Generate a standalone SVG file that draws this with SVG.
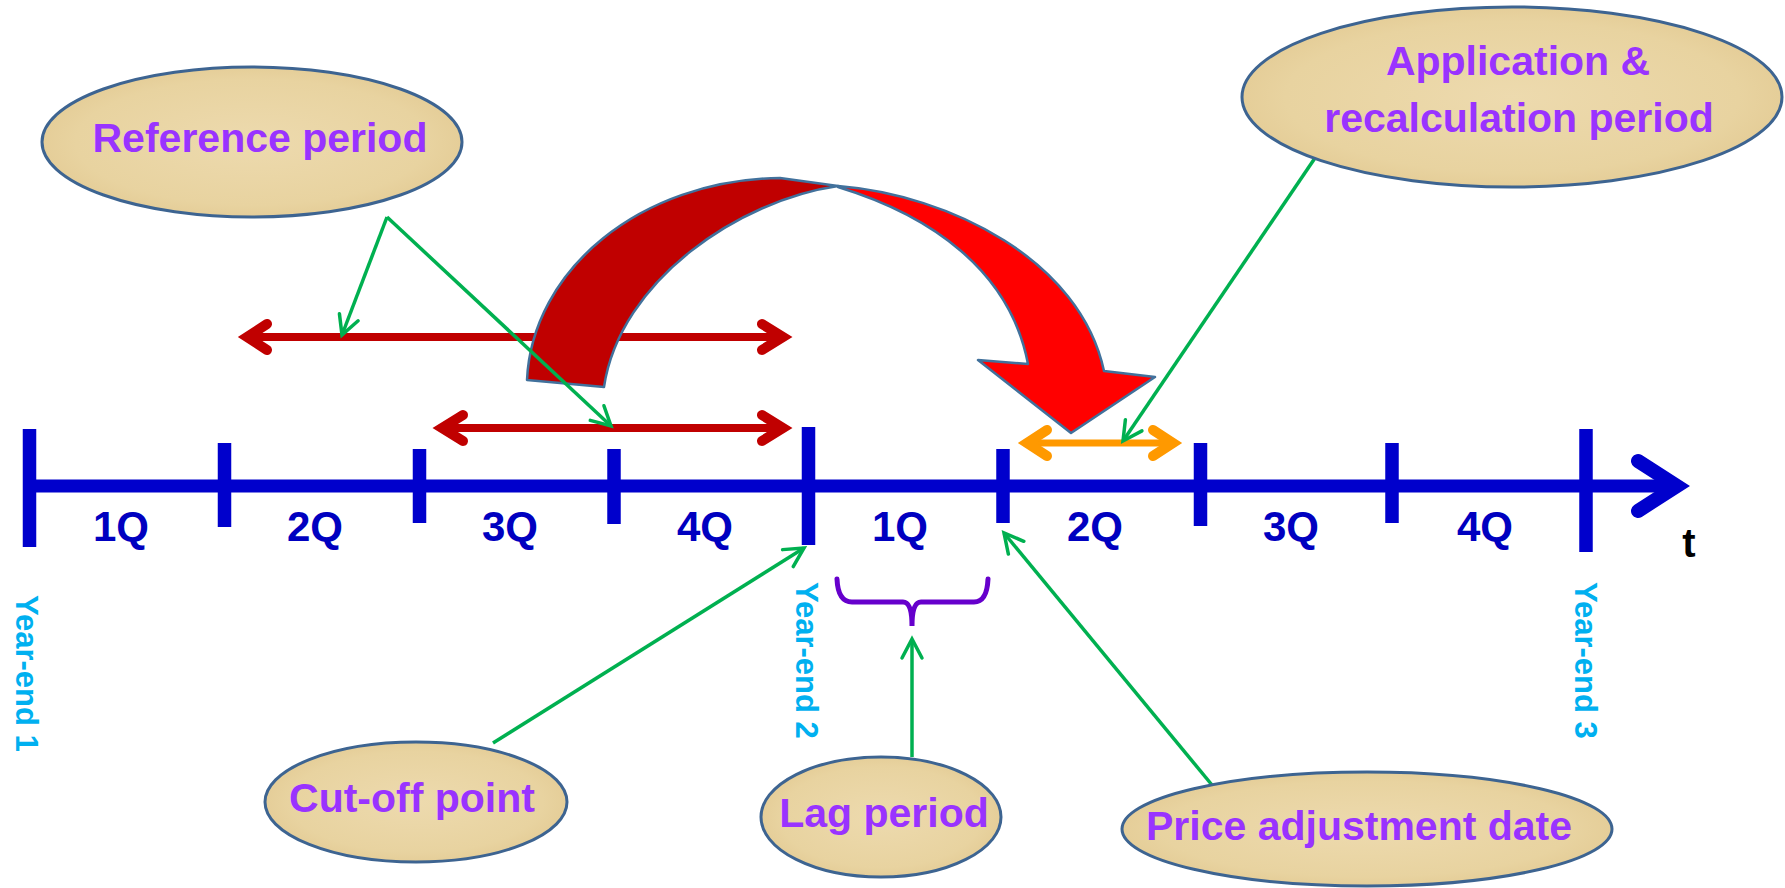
<svg xmlns="http://www.w3.org/2000/svg" width="1785" height="888" viewBox="0 0 1785 888">
<style>
.axis{stroke:#0000CC;stroke-width:13;fill:none}
.tick{stroke:#0000CC;stroke-width:13.5;fill:none}
.q{font-family:"Liberation Sans",Arial,sans-serif;font-weight:bold;font-size:42px;fill:#0000C0;text-anchor:middle}
.ye{font-family:"Liberation Sans",Arial,sans-serif;font-weight:bold;font-size:31px;fill:#00B0F0}
.bub{fill:url(#pap);stroke:#3D6491;stroke-width:3}
.lbl{font-family:"Liberation Sans",Arial,sans-serif;font-weight:bold;font-size:41px;fill:#9933FF;text-anchor:middle}
.red{stroke:#C00000;fill:none;stroke-linecap:round;stroke-linejoin:miter}
.org{stroke:#FF9900;fill:none;stroke-linecap:round;stroke-linejoin:miter}
.grn{stroke:#00B050;stroke-width:3.5;fill:none;marker-end:url(#gh)}
</style>
<defs>
<radialGradient id="pap" cx="0.5" cy="0.5" r="0.6">
<stop offset="0" stop-color="#EDDAAE"/>
<stop offset="0.7" stop-color="#E8D3A0"/>
<stop offset="1" stop-color="#E1C78F"/>
</radialGradient>
<marker id="gh" markerUnits="userSpaceOnUse" viewBox="-22 -14 26 28" refX="0" refY="0" markerWidth="26" markerHeight="28" orient="auto">
<path d="M-19,-10 L0,0 L-19,10" fill="none" stroke="#00B050" stroke-width="3.5" stroke-linecap="round"/>
</marker>
</defs>

<g id="timeline">
<line class="axis" x1="30" y1="486" x2="1674" y2="486"/>
<polyline points="1638,461 1677,486 1638,511" fill="none" stroke="#0000CC" stroke-width="14" stroke-linecap="round" stroke-linejoin="miter"/>
<line class="tick" x1="29.5" y1="429" x2="29.5" y2="547"/>
<line class="tick" x1="224.5" y1="443" x2="224.5" y2="527"/>
<line class="tick" x1="419.5" y1="449" x2="419.5" y2="523"/>
<line class="tick" x1="614" y1="449" x2="614" y2="524"/>
<line class="tick" x1="808.5" y1="427" x2="808.5" y2="545"/>
<line class="tick" x1="1003" y1="449" x2="1003" y2="523"/>
<line class="tick" x1="1200.5" y1="443" x2="1200.5" y2="526"/>
<line class="tick" x1="1392" y1="443" x2="1392" y2="523"/>
<line class="tick" x1="1586" y1="429" x2="1586" y2="552"/>
<text class="q" x="121" y="541">1Q</text>
<text class="q" x="315" y="541">2Q</text>
<text class="q" x="510" y="541">3Q</text>
<text class="q" x="705" y="541">4Q</text>
<text class="q" x="900" y="541">1Q</text>
<text class="q" x="1095" y="541">2Q</text>
<text class="q" x="1291" y="541">3Q</text>
<text class="q" x="1485" y="541">4Q</text>
<text x="1689" y="557" font-family="Liberation Sans,Arial,sans-serif" font-weight="bold" font-size="40" fill="#000" text-anchor="middle">t</text>
<text class="ye" transform="translate(16,595) rotate(90)">Year-end 1</text>
<text class="ye" transform="translate(796,582) rotate(90)">Year-end 2</text>
<text class="ye" transform="translate(1575,582) rotate(90)">Year-end 3</text>
</g>

<g id="reference-arrows">
<line class="red" x1="250" y1="337" x2="780" y2="337" stroke-width="8"/>
<polyline class="red" points="267,324 247,337 267,350" stroke-width="10"/>
<polyline class="red" points="762,324 783,337 762,350" stroke-width="10"/>
<line class="red" x1="445" y1="428" x2="780" y2="428" stroke-width="8"/>
<polyline class="red" points="463,415 442,428 463,441" stroke-width="10"/>
<polyline class="red" points="762,415 783,428 762,441" stroke-width="10"/>
</g>

<g id="application-arrow">
<line class="org" x1="1030" y1="443" x2="1170" y2="443" stroke-width="7"/>
<polyline class="org" points="1047,430 1027,443 1047,456" stroke-width="10"/>
<polyline class="org" points="1153,430 1173,443 1153,456" stroke-width="10"/>
</g>

<g id="lag-brace">
<path d="M837,579 Q838,602 852,602 L903,602 Q912,602 912,626 Q912,602 921,602 L974,602 Q987,602 988,579" fill="none" stroke="#6600CC" stroke-width="5" stroke-linecap="round"/>
</g>

<g id="curved-arrow">
<path d="M527,380 C532,270 640,180 780,178 L838,186 C740,200 620,280 604,387 Z" fill="#C00000" stroke="#41719C" stroke-width="2.5" stroke-linejoin="round"/>
<path d="M838,186 C950,195 1080,260 1104,371 L1155,377 L1071,433 L978,360 L1028,364 C1010,270 930,215 838,187 Z" fill="#FF0000" stroke="#41719C" stroke-width="2.5" stroke-linejoin="round"/>
</g>

<g id="connectors">
<line class="grn" x1="387" y1="217" x2="342" y2="335"/>
<line class="grn" x1="387" y1="217" x2="611" y2="426"/>
<line class="grn" x1="493" y1="743" x2="804" y2="548"/>
<line class="grn" x1="912" y1="757" x2="912" y2="639"/>
<line class="grn" x1="1212" y1="785" x2="1004" y2="533"/>
<line class="grn" x1="1315" y1="158" x2="1123" y2="441"/>
</g>

<g id="reference-period">
<ellipse class="bub" cx="252" cy="142" rx="210" ry="75"/>
<text class="lbl" x="260" y="152">Reference period</text>
</g>

<g id="application-period">
<ellipse class="bub" cx="1512" cy="97" rx="270" ry="90"/>
<text class="lbl" x="1518" y="75">Application &amp;</text>
<text class="lbl" x="1519" y="132">recalculation period</text>
</g>

<g id="cut-off-point">
<ellipse class="bub" cx="416" cy="802" rx="151" ry="60"/>
<text class="lbl" x="412" y="812">Cut-off point</text>
</g>

<g id="lag-period">
<ellipse class="bub" cx="881" cy="817" rx="120" ry="60"/>
<text class="lbl" x="884" y="827">Lag period</text>
</g>

<g id="price-adjustment-date">
<ellipse class="bub" cx="1367" cy="829" rx="245" ry="57"/>
<text class="lbl" x="1359" y="840">Price adjustment date</text>
</g>
</svg>
